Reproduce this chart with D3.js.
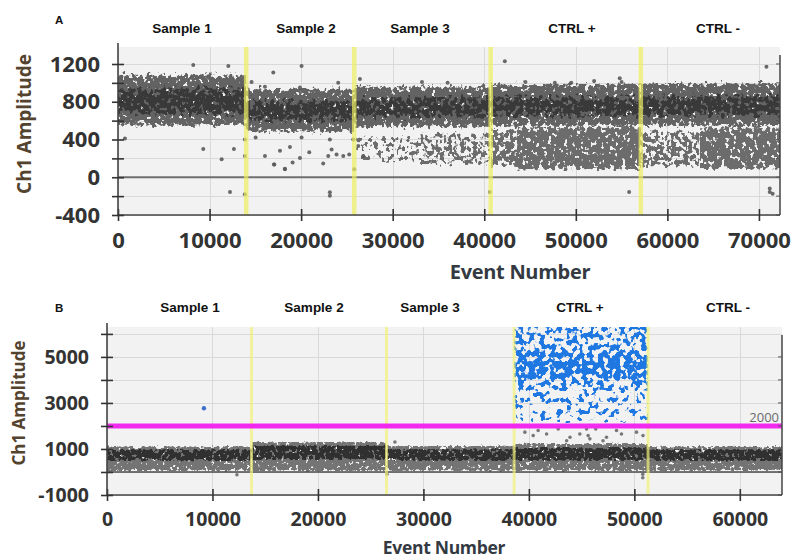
<!DOCTYPE html>
<html>
<head>
<meta charset="utf-8">
<script src="https://cdn.jsdelivr.net/npm/d3@7"></script>
<style>
  html, body { margin: 0; padding: 0; background: #fff; }
  svg { display: block; }
</style>
</head>
<body>
<svg id="chart" width="792" height="560"></svg>
<script>
// ---------------- data ----------------
const wellNames = ["Sample 1", "Sample 2", "Sample 3", "CTRL +", "CTRL -"];

// Panel A (QX run 1)
const aBounds = [0, 14000, 25800, 40700, 57100, 72300];
const aXTicks = [0, 10000, 20000, 30000, 40000, 50000, 60000, 70000];
const aYTicks = [-400, 0, 400, 800, 1200];
const aYMinor = [-200, 200, 600, 1000];
// negative-droplet band per well: outer edge and dense core (amplitude)
const aBandLo = [545, 475, 525, 535, 540];
const aBandHi = [1090, 940, 965, 990, 1000];
const aCoreLo = [640, 570, 610, 620, 625];
const aCoreHi = [970, 840, 870, 880, 890];
// droplet rain below the band: [eventStart, eventEnd, ampLo, ampHi, coverage]
const aRain = [
  [26000, 33000, 130, 470, 0.40],
  [33000, 40700, 100, 500, 0.55],
  [40700, 43500, 80, 530, 0.70],
  [43500, 57100, 70, 545, 0.92],
  [57100, 63500, 80, 520, 0.62],
  [63500, 72300, 75, 540, 0.92]
];
// isolated droplets: [event, amplitude]
const aSingles = [
  [8220, 1190], [12050, 1180], [20050, 1180], [16960, 1110], [24050, 1000],
  [26420, 1040], [16050, 960], [19870, 950], [14590, 1010], [760, 410],
  [9310, 300], [11320, 190], [12660, 300], [12230, -155], [13860, -180],
  [13860, 225], [13860, 400], [15030, 420], [16050, 225], [17070, 135],
  [17690, 280], [18230, 90], [18780, 320], [19070, 155], [19870, 205],
  [20050, 420], [20890, 265], [22410, 145], [22960, 225], [23140, 400],
  [23330, 295], [23870, 240], [24600, 225], [23140, -160], [23140, -195],
  [25250, 240], [25690, 400], [25800, 85], [26240, 330], [26780, 225],
  [17030, 135], [18230, 85], [42250, 1230], [47710, 1000], [54800, 1050],
  [70820, 1170], [40610, -155], [55820, -155], [71180, -155], [71180, -120],
  [71500, -175], [33200, 1010], [36000, 1000], [44500, 1010], [49500, 1000],
  [52000, 1020], [55000, 1010]
];

// Panel B (QX run 2)
const bBounds = [0, 13700, 26500, 38600, 51300, 64000];
const bXTicks = [0, 10000, 20000, 30000, 40000, 50000, 60000];
const bYTicks = [-1000, 1000, 3000, 5000];
const bYMinor = [0, 2000, 4000, 6000];
const bThreshold = 2000;
const bBandLo = [50, 50, 50, 50, 50];
const bBandHi = [1120, 1320, 1150, 1250, 1120];
const bCoreLo = [460, 510, 470, 470, 460];
const bCoreHi = [1010, 1180, 1020, 1090, 1010];
// positive droplets in CTRL +, nested density zones:
// [eventStart, eventEnd, ampLo, ampHi, coverage]
const bPositive = [
  [38600, 51300, 2050, 6500, 0.32],
  [38600, 51300, 3400, 6500, 0.50],
  [38600, 51300, 3950, 5300, 0.74]
];
const bPosSingles = [[9190, 2770]];
const bNegSingles = [
  [39620, 1730], [40410, 1580], [40880, 1800], [42780, 1870], [43900, 1510],
  [44830, 1650], [45470, 1870], [45620, 1580], [45780, 1440], [47360, 1510],
  [48310, 1800], [48780, 1650], [50200, 1730], [50820, 1580], [46340, 1870],
  [41680, 1650], [43580, 1360], [47030, 1360], [50800, -100], [50800, -250],
  [12320, -120], [26540, -100], [27300, 1300]
];

// ---------------- drawing ----------------
const svg = d3.select("#chart");
const defs = svg.append("defs");
const TICK_FONT = "'Open Sans', 'DejaVu Sans', sans-serif";
const HEAD_FONT = "'Liberation Sans', Arial, sans-serif";

let filterCount = 0;
// Speckled fill: a noise grain masked by the softened shape, so droplet
// clouds thin out towards their upper and lower edges.
function speckle(colour, coverage, seed, freq, soften) {
  const id = "speckle" + (++filterCount);
  const t = 0.5 + 0.42 * (0.5 - coverage);
  const f = defs.append("filter").attr("id", id)
    .attr("filterUnits", "userSpaceOnUse")
    .attr("x", -20).attr("y", -40).attr("width", 720).attr("height", 260)
    .attr("color-interpolation-filters", "sRGB");
  f.append("feGaussianBlur").attr("in", "SourceAlpha")
    .attr("stdDeviation", "0 " + soften).attr("result", "soft");
  f.append("feTurbulence").attr("type", "fractalNoise")
    .attr("baseFrequency", `${(freq * 1.1).toFixed(3)} ${freq}`)
    .attr("numOctaves", 2).attr("seed", seed)
    .attr("result", "noise");
  f.append("feColorMatrix").attr("in", "noise").attr("type", "matrix")
    .attr("values", "0 0 0 0 0  0 0 0 0 0  0 0 0 0 0  1 0 0 0 0")
    .attr("result", "grain");
  f.append("feComposite").attr("in", "grain").attr("in2", "soft")
    .attr("operator", "arithmetic").attr("k1", 1).attr("k2", 0).attr("k3", 0).attr("k4", 0)
    .attr("result", "mix");
  f.append("feComponentTransfer").attr("in", "mix").attr("result", "mask")
    .append("feFuncA").attr("type", "linear").attr("slope", 18).attr("intercept", -18 * t);
  f.append("feFlood").attr("flood-color", colour).attr("result", "ink");
  f.append("feComposite").attr("in", "ink").attr("in2", "mask").attr("operator", "in")
    .attr("result", "dots");
  f.append("feGaussianBlur").attr("in", "dots").attr("stdDeviation", 0.5);
  return "url(#" + id + ")";
}

function panel(cfg) {
  const { left, top, width, height } = cfg;
  const x = d3.scaleLinear().domain(cfg.xDomain).range([0, width]);
  const y = d3.scaleLinear().domain(cfg.yDomain).range([height, 0]);
  const g = svg.append("g").attr("transform", `translate(${left},${top})`);

  const clipId = "clip" + cfg.key;
  defs.append("clipPath").attr("id", clipId)
    .append("rect").attr("width", width).attr("height", height);

  // plot background and grid
  g.append("rect").attr("width", width).attr("height", height).attr("fill", "#f2f2f2");
  const grid = g.append("g").attr("stroke", "#d9d9d9").attr("stroke-width", 1);
  grid.selectAll("line.h").data(cfg.yTicks.concat(cfg.yMinor)).join("line")
    .attr("x1", 0).attr("x2", width)
    .attr("y1", d => Math.round(y(d)) + 0.5).attr("y2", d => Math.round(y(d)) + 0.5);
  grid.selectAll("line.v").data(cfg.xTicks).join("line")
    .attr("y1", 0).attr("y2", height)
    .attr("x1", d => Math.round(x(d)) + 0.5).attr("x2", d => Math.round(x(d)) + 0.5);

  const plot = g.append("g").attr("clip-path", `url(#${clipId})`);

  // rect for a data span, optionally padded vertically by a few pixels
  const rect = (sel, x0, x1, lo, hi, pad = 0) => sel
    .attr("x", x(x0)).attr("width", x(x1) - x(x0))
    .attr("y", y(hi) - pad).attr("height", y(lo) - y(hi) + 2 * pad);

  // rain / positive clouds
  cfg.clouds.forEach(c => {
    c.data.forEach(d => {
      rect(plot.append("rect"), d[0], d[1], d[2], d[3])
        .attr("fill", "#000")
        .attr("filter", speckle(c.colour, d[4], c.seed, c.freq, c.soften));
    });
  });

  // negative-droplet band per well: sparse halo, dense body, dark core
  const wells = d3.range(wellNames.length);
  wells.forEach(i => {
    const x0 = cfg.bounds[i], x1 = cfg.bounds[i + 1];
    rect(plot.append("rect"), x0, x1, cfg.bandLo[i], cfg.bandHi[i], cfg.haloPad)
      .attr("fill", "#000")
      .attr("filter", speckle(cfg.bandColour, 0.35, 41 + i, cfg.freq, cfg.bandSoften));
    rect(plot.append("rect"), x0, x1, cfg.bandLo[i], cfg.bandHi[i])
      .attr("fill", "#000")
      .attr("filter", speckle(cfg.bandColour, 0.97, 7 + i, cfg.freq, cfg.bandSoften));
    rect(plot.append("rect"), x0, x1, cfg.coreLo[i], cfg.coreHi[i])
      .attr("fill", "#000")
      .attr("filter", speckle(cfg.coreColour, 0.9, 21 + i, cfg.freq, cfg.coreSoften));
  });

  // isolated droplets
  cfg.singles.forEach(s => {
    plot.append("g").selectAll("circle").data(s.data).join("circle")
      .attr("cx", d => x(d[0])).attr("cy", d => y(d[1]))
      .attr("r", s.r).attr("fill", s.colour).attr("opacity", 0.9);
  });

  // zero line
  g.append("line").attr("x1", 0).attr("x2", width)
    .attr("y1", y(0)).attr("y2", y(0))
    .attr("stroke", cfg.zeroColour).attr("stroke-width", cfg.zeroWidth);

  // well separators
  g.append("g").selectAll("line").data(cfg.bounds.slice(1, -1)).join("line")
    .attr("x1", d => x(d)).attr("x2", d => x(d))
    .attr("y1", 0).attr("y2", height)
    .attr("stroke", cfg.sepColour).attr("stroke-width", cfg.sepWidth)
    .attr("opacity", 0.7);

  // threshold
  if (cfg.threshold != null) {
    g.append("line").attr("x1", 0).attr("x2", width)
      .attr("y1", y(cfg.threshold)).attr("y2", y(cfg.threshold))
      .attr("stroke", "#f22af0").attr("stroke-width", 5);
    g.append("text").attr("x", width - 3).attr("y", y(cfg.threshold) - 4)
      .attr("text-anchor", "end").attr("font-family", TICK_FONT)
      .attr("font-size", 13).attr("fill", "#6a6a6a").text(cfg.threshold);
  }

  // right border with inward ticks
  g.append("line").attr("x1", width).attr("x2", width).attr("y1", 8).attr("y2", height)
    .attr("stroke", "#444").attr("stroke-width", 1.5);
  g.append("g").selectAll("line").data(cfg.yTicks.concat(cfg.yMinor).filter(v => y(v) > 8)).join("line")
    .attr("x1", width - 4).attr("x2", width)
    .attr("y1", d => y(d)).attr("y2", d => y(d))
    .attr("stroke", "#555").attr("stroke-width", 1);

  // axes
  const xAxis = g.append("g").attr("transform", `translate(0,${height})`)
    .call(d3.axisBottom(x).tickValues(cfg.xTicks).tickFormat(d3.format("d")).tickSizeOuter(0).tickSize(6));
  xAxis.select(".domain").attr("stroke", "#444").attr("stroke-width", 1.6)
    .attr("d", `M0,0H${width}`);
  xAxis.selectAll(".tick line").attr("y1", -6).attr("y2", 6).attr("stroke", "#333").attr("stroke-width", 1.6);
  xAxis.selectAll(".tick text").attr("y", cfg.xLabelDy).attr("dy", 0)
    .attr("font-family", TICK_FONT).attr("font-weight", 700)
    .attr("font-size", cfg.tickSize).attr("fill", "#333");

  const yAxis = g.append("g")
    .call(d3.axisLeft(y).tickValues(cfg.yTicks.concat(cfg.yMinor)).tickFormat(d => cfg.yTicks.includes(d) ? d : "")
      .tickSizeOuter(0).tickSize(6));
  yAxis.select(".domain").attr("stroke", "#444").attr("stroke-width", 1.6)
    .attr("d", `M0,${-4}V${height}`);
  yAxis.selectAll(".tick line").attr("x1", -6).attr("x2", 6).attr("stroke", "#333").attr("stroke-width", 1.6);
  yAxis.selectAll(".tick text").attr("x", cfg.yLabelDx)
    .attr("font-family", TICK_FONT).attr("font-weight", 700)
    .attr("font-size", cfg.tickSize).attr("fill", "#333");

  // axis titles
  svg.append("text")
    .attr("transform", `translate(${cfg.yTitle[0]},${cfg.yTitle[1]}) rotate(-90)`)
    .attr("text-anchor", "middle").attr("font-family", TICK_FONT).attr("font-weight", 700)
    .attr("font-size", cfg.yTitle[2]).attr("fill", "#54432f").text("Ch1 Amplitude");
  svg.append("text").attr("x", cfg.xTitle[0]).attr("y", cfg.xTitle[1])
    .attr("text-anchor", "middle").attr("font-family", TICK_FONT).attr("font-weight", 700)
    .attr("font-size", cfg.xTitle[2]).attr("fill", "#343a42").attr("letter-spacing", -0.3)
    .text("Event Number");

  // panel letter and well headings
  svg.append("text").attr("x", cfg.letter[0]).attr("y", cfg.letter[1])
    .attr("font-family", HEAD_FONT).attr("font-weight", 700).attr("font-size", 11.5)
    .attr("fill", "#111").text(cfg.key);
  svg.append("g").selectAll("text").data(wellNames).join("text")
    .attr("x", (d, i) => cfg.headX[i]).attr("y", cfg.headY)
    .attr("text-anchor", "middle").attr("font-family", HEAD_FONT).attr("font-weight", 700)
    .attr("font-size", 13.5).attr("fill", "#111").text(d => d);
}

panel({
  key: "A", left: 118, top: 47, width: 662, height: 168,
  xDomain: [0, 72300], yDomain: [-400, 1380],
  xTicks: aXTicks, yTicks: aYTicks, yMinor: aYMinor,
  bounds: aBounds, bandLo: aBandLo, bandHi: aBandHi, coreLo: aCoreLo, coreHi: aCoreHi,
  bandColour: "#636363", coreColour: "#393939", freq: 0.22, bandSoften: 3, coreSoften: 7,
  haloPad: 5,
  clouds: [{ data: aRain, colour: "#6c6c6c", seed: 3, freq: 0.22, soften: 3 }],
  singles: [{ data: aSingles, colour: "#5a5a5a", r: 2 }],
  zeroColour: "#6e6e6e", zeroWidth: 2,
  sepColour: "#eef060", sepWidth: 4.5,
  threshold: null,
  tickSize: 22, xLabelDy: 33, yLabelDx: -18,
  yTitle: [31, 124, 19], xTitle: [520, 279, 20],
  letter: [55, 24], headX: [182, 306, 420, 572, 718], headY: 33
});

panel({
  key: "B", left: 107, top: 327, width: 675, height: 168,
  xDomain: [0, 64000], yDomain: [-1000, 6300],
  xTicks: bXTicks, yTicks: bYTicks, yMinor: bYMinor,
  bounds: bBounds, bandLo: bBandLo, bandHi: bBandHi, coreLo: bCoreLo, coreHi: bCoreHi,
  bandColour: "#747474", coreColour: "#303030", freq: 0.26, bandSoften: 1.5, coreSoften: 1.5,
  haloPad: 2,
  clouds: [{ data: bPositive, colour: "#1f78e2", seed: 11, freq: 0.17, soften: 2 }],
  singles: [
    { data: bNegSingles, colour: "#6a6a6a", r: 1.8 },
    { data: bPosSingles, colour: "#2a62c8", r: 2.2 }
  ],
  zeroColour: "#4a4a4a", zeroWidth: 1.6,
  sepColour: "#f2f27a", sepWidth: 3,
  threshold: bThreshold,
  tickSize: 19.5, xLabelDy: 31, yLabelDx: -18,
  yTitle: [25, 403, 17], xTitle: [444, 554, 17.5],
  letter: [55, 312], headX: [190, 314, 430, 580, 728], headY: 312
});
</script>
</body>
</html>
